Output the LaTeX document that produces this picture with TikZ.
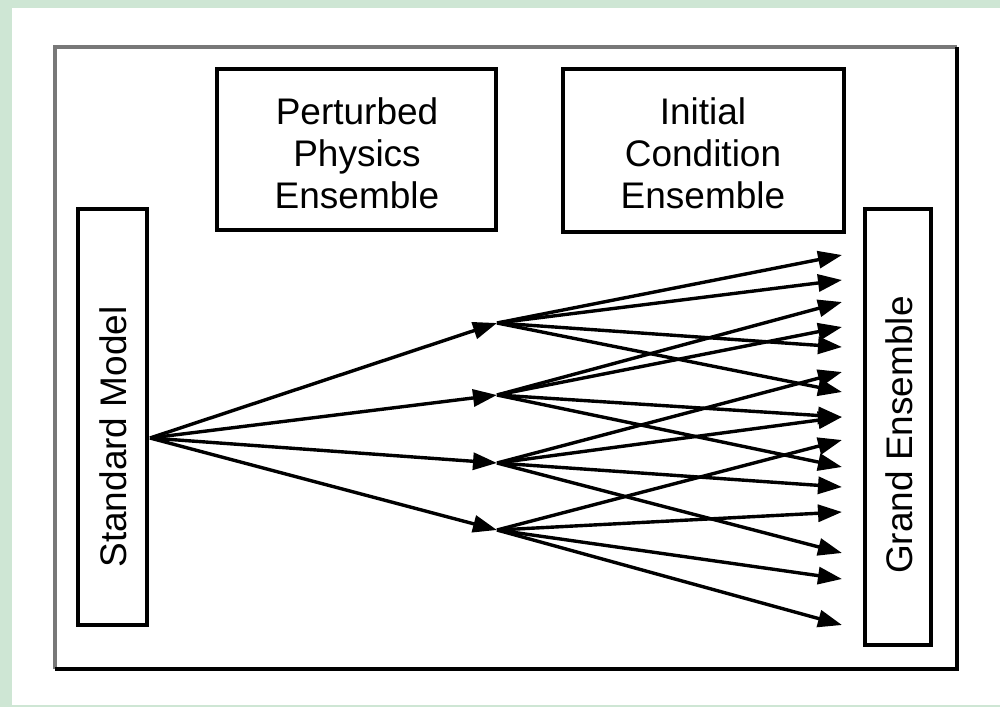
\documentclass[tikz,border=0pt]{standalone}
\usepackage{fontspec}
\setmainfont{Liberation Sans}
\usetikzlibrary{arrows.meta}
\definecolor{bggreen}{RGB}{206,230,212}
\definecolor{framegray}{RGB}{120,120,120}
\tikzset{
  box/.style={draw=black, line width=4.5pt, fill=white},
  lbl/.style={font=\fontsize{37}{42}\selectfont, align=center, inner sep=0pt},
  arr/.style={line width=3.4pt, -{Triangle[length=24pt,width=17pt]}, shorten >=0pt},
}
\begin{document}
\begin{tikzpicture}[x=1pt,y=-1pt]
\useasboundingbox (0,0) rectangle (1000,707);
\fill[bggreen] (0,0) rectangle (1000,707);
\fill[white] (12,8) rectangle (1000,705);
% frame
\draw[framegray, line width=3.5pt] (55,669) -- (55,47) -- (957,47);
\draw[black, line width=4pt] (957,47) -- (957,669) -- (55,669);
% boxes
\draw[box] (78,209) rectangle (147,625);
\node[lbl, rotate=90] (sm) at (113,437) {Standard Model};
\draw[box] (217,69) rectangle (496,230);
\node[lbl] (pp) at (357,153) {Perturbed\\Physics\\Ensemble};
\draw[box] (563,69) rectangle (844,232);
\node[lbl] (ic) at (703,153) {Initial\\Condition\\Ensemble};
\draw[box] (865,209) rectangle (931,645);
\node[lbl, rotate=90] (ge) at (899,435) {Grand Ensemble};
% points
\coordinate (src) at (150,438);
\coordinate (m1) at (497,323);
\coordinate (m2) at (497,395);
\coordinate (m3) at (497,463);
\coordinate (m4) at (497,530);
\foreach \y in {255,280,302,327,347,372,392,417,440,467,487,512,553,579,625}
  \coordinate (t\y) at (842,\y);
% first stage
\foreach \m in {m1,m2,m3,m4}
  \draw[arr] (src) -- (\m);
% second stage
\foreach \t in {255,280,347,392} \draw[arr] (m1) -- (t\t);
\foreach \t in {302,327,417,467} \draw[arr] (m2) -- (t\t);
\foreach \t in {372,417,487,553} \draw[arr] (m3) -- (t\t);
\foreach \t in {440,512,579,625} \draw[arr] (m4) -- (t\t);
\end{tikzpicture}
\end{document}
